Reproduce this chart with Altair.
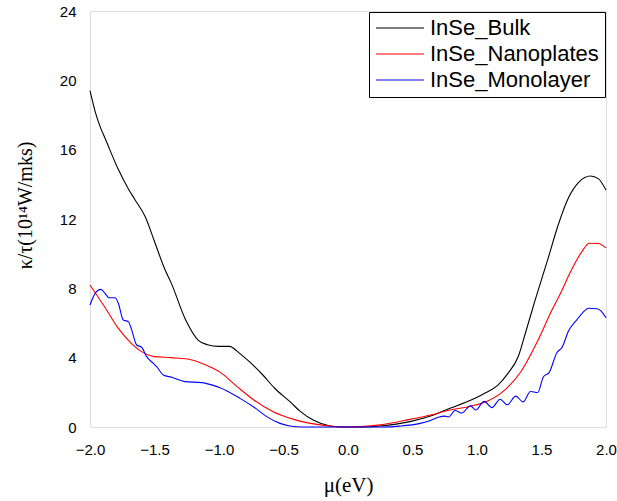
import altair as alt
import pandas as pd

series_names = ["InSe_Bulk", "InSe_Nanoplates", "InSe_Monolayer"]
series_colors = ["#000000", "#ff0000", "#0000ff"]

bulk_mu = [-2.0, -1.96, -1.92, -1.88, -1.78, -1.70, -1.65, -1.57, -1.50, -1.42, -1.37,
           -1.26, -1.16, -1.09, -1.0, -0.92, -0.84, -0.75, -0.66, -0.57, -0.45, -0.37,
           -0.27, -0.14, -0.05, 0.0, 0.1, 0.25, 0.48, 0.64, 0.79, 0.95, 1.05, 1.16,
           1.24, 1.32, 1.38, 1.45, 1.55, 1.63, 1.71, 1.79, 1.88, 1.94, 2.0]
bulk_k = [19.4, 18.2, 17.3, 16.6, 14.85, 13.7, 13.1, 12.1, 10.7, 9.1, 8.3,
          6.2, 5.0, 4.75, 4.65, 4.65, 4.25, 3.67, 3.0, 2.25, 1.46, 0.9,
          0.4, 0.06, 0.0, 0.0, 0.0, 0.06, 0.31, 0.63, 1.08, 1.54, 1.91, 2.4,
          3.09, 4.07, 5.54, 7.3, 9.7, 11.67, 13.24, 14.13, 14.48, 14.33, 13.67]

nano_mu = [-2.0, -1.88, -1.78, -1.68, -1.60, -1.50, -1.37, -1.21, -1.13, -1.05, -0.99,
           -0.86, -0.73, -0.58, -0.42, -0.24, -0.1, 0.0, 0.1, 0.25, 0.48, 0.64, 0.79,
           0.95, 1.05, 1.21, 1.34, 1.47, 1.58, 1.66, 1.71, 1.82, 1.87, 1.94, 2.0]
nano_k = [8.19, 6.85, 5.69, 4.83, 4.35, 4.06, 4.0, 3.87, 3.67, 3.4, 3.15,
          2.33, 1.56, 0.88, 0.44, 0.15, 0.03, 0.0, 0.02, 0.12, 0.44, 0.69, 0.98,
          1.2, 1.4, 2.1, 3.19, 4.96, 6.73, 7.9, 8.72, 10.19, 10.6, 10.59, 10.33]

mono_mu = [-2.0, -1.96, -1.915, -1.884, -1.853, -1.806, -1.78, -1.742, -1.703, -1.677,
           -1.638, -1.6, -1.561, -1.509, -1.483, -1.432, -1.367, -1.264, -1.134, -1.044,
           -0.992, -0.837, -0.734, -0.63, -0.527, -0.45, -0.35, 0.25, 0.4, 0.56, 0.64,
           0.70, 0.75, 0.78, 0.83, 0.88, 0.95, 0.99, 1.055, 1.115, 1.18, 1.235, 1.30,
           1.357, 1.415, 1.47, 1.515, 1.56, 1.62, 1.66, 1.71, 1.775, 1.82, 1.865, 1.93,
           1.96, 2.0]
mono_k = [7.04, 7.71, 7.94, 7.71, 7.46, 7.46, 7.13, 6.17, 6.08, 5.6,
          4.73, 4.6, 4.06, 3.67, 3.48, 3.0, 2.87, 2.62, 2.56, 2.4,
          2.27, 1.65, 1.17, 0.6, 0.21, 0.06, 0.0, 0.0, 0.05, 0.21, 0.38,
          0.56, 0.63, 0.58, 0.95, 0.8, 1.22, 0.98, 1.48, 1.12, 1.6, 1.28, 1.78,
          1.45, 2.05, 1.98, 2.9, 3.15, 4.3, 4.6, 5.55, 6.2, 6.6, 6.85, 6.82,
          6.7, 6.3]

x_ticks = [-2.0, -1.5, -1.0, -0.5, 0.0, 0.5, 1.0, 1.5, 2.0]
y_ticks = [0, 4, 8, 12, 16, 20, 24]

rows = []
for name, mus, ks in zip(series_names, [bulk_mu, nano_mu, mono_mu], [bulk_k, nano_k, mono_k]):
    for i, (m, k) in enumerate(zip(mus, ks)):
        rows.append({"series": name, "mu": m, "kappa": k, "order": i})
df = pd.DataFrame(rows)

chart = alt.Chart(df).mark_line(strokeWidth=1.1, interpolate="monotone").encode(
    x=alt.X("mu:Q",
            scale=alt.Scale(domain=[-2, 2], nice=False, zero=False),
            axis=alt.Axis(title="μ(eV)", values=x_ticks, format=".1f", grid=False,
                          ticks=False, tickSize=0, domain=False, labelPadding=15,
                          labelFlush=False,
                          labelFont="Liberation Sans", labelFontSize=15, labelColor="#000",
                          titleFont="Liberation Serif", titleFontSize=21,
                          titleFontWeight="normal", titleColor="#000",
                          titleX=258, titleY=58, titleBaseline="middle")),
    y=alt.Y("kappa:Q",
            scale=alt.Scale(domain=[0, 24], nice=False),
            axis=alt.Axis(title="κ/τ(10¹⁴W/mks)", values=y_ticks, grid=False,
                          ticks=False, tickSize=0, domain=False, labelPadding=14,
                          labelFlush=False,
                          labelFont="Liberation Sans", labelFontSize=15, labelColor="#000",
                          titleFont="Liberation Serif", titleFontSize=20,
                          titleFontWeight="normal", titleColor="#000",
                          titleX=-65, titleY=194, titleBaseline="middle")),
    color=alt.Color("series:N",
                    scale=alt.Scale(domain=series_names, range=series_colors),
                    legend=alt.Legend(title=None, orient="none", legendX=279, legendY=1,
                                      symbolType="stroke", symbolSize=2304, symbolStrokeWidth=1.2,
                                      clipHeight=20,
                                      labelFont="Liberation Sans", labelFontSize=22,
                                      labelColor="#000", labelOffset=5, rowPadding=4,
                                      padding=6, strokeColor="#000", fillColor="#fff",
                                      labelLimit=400)),
    order="order:Q",
).properties(
    width=516, height=416,
    autosize=alt.AutoSizeParams(type="none"),
    padding={"left": 90, "top": 11, "right": 11, "bottom": 74},
).configure_view(
    stroke="#333333", strokeWidth=2
).configure(background="#ffffff")

chart.save("out.html", embed_options={"renderer": "svg", "actions": False})
